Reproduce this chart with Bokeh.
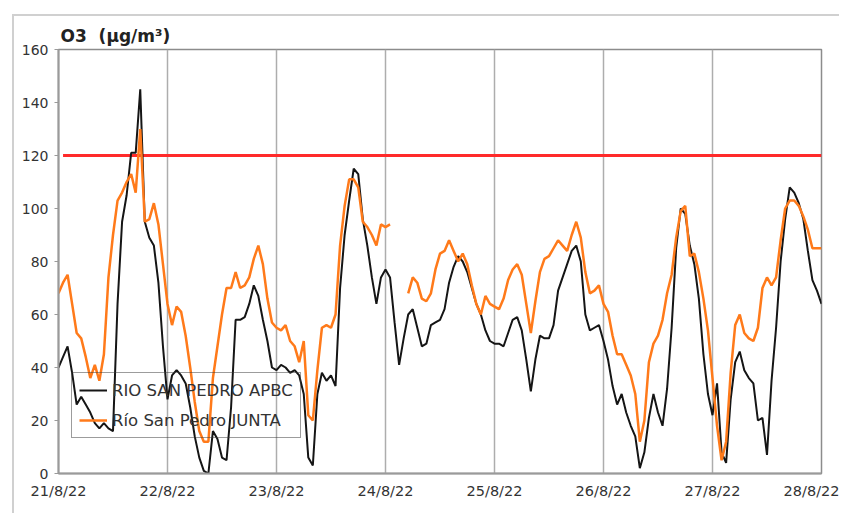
import numpy as np
from bokeh.plotting import figure
from bokeh.models import Range1d, FixedTicker, Legend, LegendItem
from bokeh.embed import file_html
from bokeh.resources import INLINE

# ---------------- data ----------------
title_text = "O3\u00a0\u00a0(µg/m³)"
day_labels = ["21/8/22", "22/8/22", "23/8/22", "24/8/22", "25/8/22", "26/8/22", "27/8/22", "28/8/22"]
y_ticks = [0, 20, 40, 60, 80, 100, 120, 140, 160]
limit_value = 120
series_names = ["RIO SAN PEDRO APBC", "Río San Pedro JUNTA"]

# hourly O3 values (µg/m³), hour 0 = 21/8/22 00:00
apbc = [
    40, 44, 48, 38, 26, 29, 26, 23, 19, 17, 19, 17, 16, 64, 95, 105, 121, 121, 145, 95, 89, 86, 72, 48,
    28, 37, 39, 37, 34, 25, 14, 6, 1, 0, 16, 13, 6, 5, 25, 58, 58, 59, 64, 71, 67, 58, 50, 40,
    39, 41, 40, 38, 39, 37, 30, 6, 3, 30, 38, 35, 37, 33, 70, 90, 103, 115, 113, 96, 86, 74, 64, 74,
    77, 74, 57, 41, 51, 60, 62, 55, 48, 49, 56, 57, 58, 62, 72, 78, 82, 80, 76, 70, 64, 60, 54, 50,
    49, 49, 48, 53, 58, 59, 54, 43, 31, 43, 52, 51, 51, 56, 69, 74, 79, 84, 86, 80, 60, 54, 55, 56,
    50, 43, 33, 26, 30, 23, 18, 14, 2, 8, 21, 30, 23, 18, 32, 55, 85, 100, 98, 86, 79, 66, 45, 30,
    22, 34, 8, 4, 28, 42, 46, 39, 36, 34, 20, 21, 7, 35, 55, 80, 96, 108, 106, 102, 96, 84, 73, 69,
    64,
]
junta = [
    68, 72, 75, 64, 53, 51, 44, 36, 41, 35, 45, 74, 90, 103, 106, 110, 113, 106, 130, 95, 96, 102, 94, 79,
    64, 56, 63, 61, 52, 40, 27, 16, 12, 12, 36, 48, 60, 70, 70, 76, 70, 71, 74, 81, 86, 79, 66, 57,
    55, 54, 56, 50, 48, 42, 50, 22, 20, 39, 55, 56, 55, 60, 86, 101, 111, 111, 108, 95, 93, 90, 86, 94,
    93, 94, None, None, None, 68, 74, 72, 66, 65, 68, 77, 83, 84, 88, 84, 80, 83, 79, 71, 64, 60, 67, 64,
    63, 62, 66, 73, 77, 79, 75, 64, 53, 65, 76, 81, 82, 85, 88, 86, 84, 90, 95, 89, 76, 68, 69, 71,
    64, 61, 52, 45, 45, 41, 37, 30, 12, 20, 42, 49, 52, 58, 68, 75, 89, 99, 101, 82, 83, 76, 66, 54,
    36, 18, 5, 12, 38, 56, 60, 53, 51, 50, 55, 70, 74, 71, 74, 88, 100, 103, 103, 101, 97, 92, 85, 85,
    85,
]

hours = list(range(len(apbc)))
junta_arr = np.array([np.nan if v is None else v for v in junta], dtype=float)
day_ticks = [i * 24 for i in range(len(day_labels))]

FONT = "DejaVu Sans"

p = figure(
    width=827, height=499,
    x_range=Range1d(day_ticks[0], day_ticks[-1]),
    y_range=Range1d(y_ticks[0], y_ticks[-1]),
    output_backend="svg", toolbar_location=None,
    min_border_left=44, min_border_right=20, min_border_top=33, min_border_bottom=42,
)
p.styles = {
    "margin-left": "12px",
    "margin-top": "14px",
    "border-left": "2px solid #d0d0d0",
    "border-top": "2px solid #d0d0d0",
}
p.background_fill_color = "white"
p.border_fill_color = "white"
p.outline_line_color = "#8c8c8c"
p.outline_line_width = 1.5

# title
p.title.text = title_text
p.title.text_font = FONT
p.title.text_font_size = "17px"
p.title.text_font_style = "bold"
p.title.text_color = "#222222"
p.title.align = "left"
p.title.offset = 2
p.title.standoff = 7

# axes
p.xaxis.ticker = FixedTicker(ticks=day_ticks)
p.xaxis.major_label_overrides = {t: lab for t, lab in zip(day_ticks, day_labels)}
p.yaxis.ticker = FixedTicker(ticks=y_ticks)
for ax in (p.xaxis, p.yaxis):
    ax.axis_line_color = "#9a9a9a"
    ax.axis_line_width = 2
    ax.major_tick_line_color = "#9a9a9a"
    ax.minor_tick_line_color = None
    ax.major_label_text_font = FONT
    ax.major_label_text_color = "#333333"
p.xaxis.major_label_text_font_size = "14.5px"
p.yaxis.major_label_text_font_size = "14px"
p.xaxis.major_tick_out = 0
p.xaxis.major_tick_in = 0
p.xaxis.major_label_standoff = 9
p.yaxis.major_tick_out = 4
p.yaxis.major_tick_in = 0
p.yaxis.major_label_standoff = 6

p.xgrid.ticker = FixedTicker(ticks=day_ticks)
p.xgrid.grid_line_color = "#adadad"
p.xgrid.grid_line_width = 1.5
p.ygrid.grid_line_color = None

# limit line
p.line(x=[hours[1], hours[-1]], y=[limit_value, limit_value], line_color="#ff2a2a", line_width=3)

r_apbc = p.line(x=hours, y=apbc, line_color="#151515", line_width=2)
r_junta = p.line(x=hours, y=junta_arr, line_color="#ff7a1a", line_width=2.5)

legend = Legend(
    items=[LegendItem(label=series_names[0], renderers=[r_apbc]),
           LegendItem(label=series_names[1], renderers=[r_junta])],
    location=(13, 35),
    orientation="vertical",
    background_fill_alpha=0,
    border_line_color="#3a3a3a",
    border_line_width=1,
    label_text_font=FONT,
    label_text_font_size="16.5px",
    label_text_color="#333333",
    padding=7,
    spacing=10,
    label_height=20,
    glyph_height=20,
    glyph_width=28,
    label_standoff=5,
    margin=0,
)
p.add_layout(legend, "center")

open("out.html", "w").write(file_html(p, INLINE))
